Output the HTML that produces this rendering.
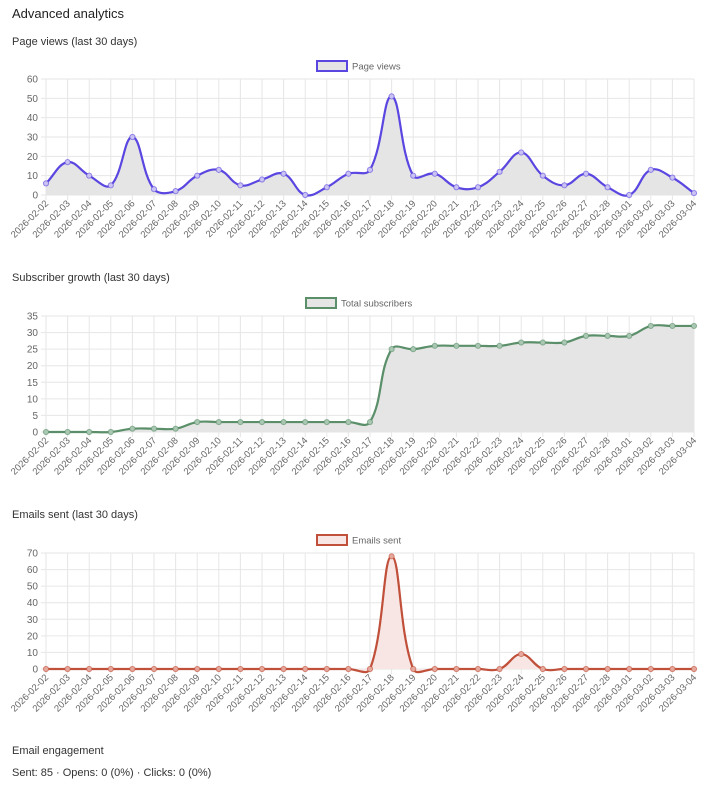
<!DOCTYPE html>
<html><head><meta charset="utf-8"><style>
body{margin:0;background:#fff;font-family:"Liberation Sans",sans-serif;color:#222;}
.t{position:absolute;left:12px;font-size:11px;color:#333}
svg{position:absolute;left:0;top:0}
</style></head><body>
<div class="t" style="top:6px;font-size:13px;color:#222">Advanced analytics</div>
<div class="t" style="top:36px">Page views (last 30 days)</div>
<div class="t" style="top:272px">Subscriber growth (last 30 days)</div>
<div class="t" style="top:509px">Emails sent (last 30 days)</div>
<div class="t" style="top:745px">Email engagement</div>
<div class="t" style="top:767px">Sent: 85 · Opens: 0 (0%) · Clicks: 0 (0%)</div>
<svg id="s" width="721" height="791" xmlns="http://www.w3.org/2000/svg"></svg>
<script>
const NS="http://www.w3.org/2000/svg",S=document.getElementById('s');
function el(n,a,t){const e=document.createElementNS(NS,n);for(const k in a)e.setAttribute(k,a[k]);if(t!=null)e.textContent=t;S.appendChild(e);return e;}
const dates=[];for(let d=2;d<=28;d++)dates.push('2026-02-'+String(d).padStart(2,'0'));for(let d=1;d<=4;d++)dates.push('2026-03-0'+d);
const X0=46,X1=694,dx=(X1-X0)/30;
function chart(top,bot,max,step,vals,col,fill,pt,label,legY,legX){
  for(let v=0;v<=max;v+=step){const y=bot-(v/max)*(bot-top);
    el('line',{x1:41,x2:X1,y1:y,y2:y,stroke:'#e6e6e6','stroke-width':1});
    el('text',{x:38,y:y+3.5,'text-anchor':'end','font-size':10,fill:'#666','font-family':'Liberation Sans'},v);}
  for(let i=0;i<31;i++){const x=X0+i*dx;
    el('line',{x1:x,x2:x,y1:top,y2:bot+5,stroke:'#e6e6e6','stroke-width':1});
    el('text',{x:0,y:0,transform:`translate(${x+3},${bot+9}) rotate(-45)`,'text-anchor':'end','font-size':9.5,fill:'#666','font-family':'Liberation Sans'},dates[i]);}
  const P=vals.map((v,i)=>[X0+i*dx,bot-(v/max)*(bot-top)]);
  let d='M'+P[0];const t=0.4;
  const cp=P.map((p,i)=>{const a=P[Math.max(i-1,0)],c=P[Math.min(i+1,P.length-1)];
    const d01=Math.hypot(p[0]-a[0],p[1]-a[1]),d12=Math.hypot(c[0]-p[0],c[1]-p[1]);
    let fa=d01/(d01+d12)||0,fb=d12/(d01+d12)||0;fa*=t;fb*=t;
    return [[p[0]-fa*(c[0]-a[0]),p[1]-fa*(c[1]-a[1])],[p[0]+fb*(c[0]-a[0]),p[1]+fb*(c[1]-a[1])]];});
  for(let i=1;i<P.length;i++)d+=` C${cp[i-1][1]} ${cp[i][0]} ${P[i]}`;
  el('path',{d:d+` L${X1},${bot} L${X0},${bot} Z`,fill:fill,stroke:'none'});
  el('path',{d:d,fill:'none',stroke:col,'stroke-width':2.2});
  P.forEach(p=>el('circle',{cx:p[0],cy:p[1],r:2.6,fill:pt,stroke:col,'stroke-opacity':0.6,'stroke-width':1}));
  el('rect',{x:legX,y:legY-5,width:30,height:10,fill:fill,stroke:col,'stroke-width':2});
  el('text',{x:legX+35,y:legY+3.5,'font-size':9.5,fill:'#666','font-family':'Liberation Sans'},label);
}
chart(79,195,60,10,[6,17,10,5,30,3,2,10,13,5,8,11,0,4,11,13,51,10,11,4,4,12,22,10,5,11,4,0,13,9,1],'#5a46e0','#e5e5e5','#c9c2f2','Page views',66,317);
chart(316,432,35,5,[0,0,0,0,1,1,1,3,3,3,3,3,3,3,3,3,25,25,26,26,26,26,27,27,27,29,29,29,32,32,32],'#5a8f69','#e5e5e5','#a9c7b2','Total subscribers',303,306);
const e=new Array(31).fill(0);e[16]=68;e[22]=9;
chart(553,669,70,10,e,'#c0503a','#f7e6e4','#e6a89c','Emails sent',540,317);
</script>
</body></html>
